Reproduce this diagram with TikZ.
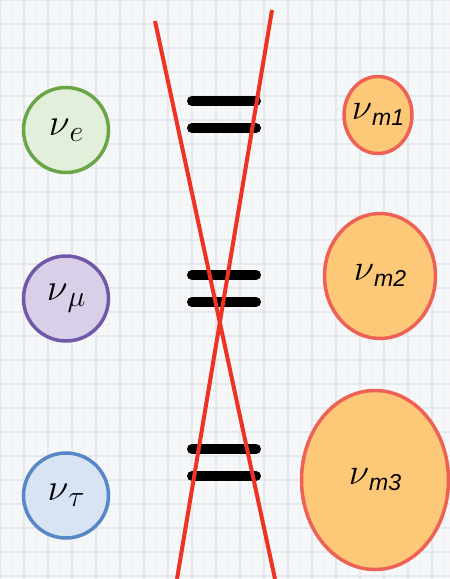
\RequirePackage{fix-cm}
\documentclass[tikz,border=0pt]{standalone}
\usepackage{fontspec}
\newfontfamily\subsans{Liberation Sans}
\usetikzlibrary{shapes.geometric}
\definecolor{bgc}{RGB}{245,247,249}
\definecolor{gridA}{RGB}{229,233,237}
\definecolor{gridB}{RGB}{239,242,245}
\definecolor{grS}{RGB}{106,166,72}
\definecolor{grF}{RGB}{226,239,218}
\definecolor{puS}{RGB}{114,88,168}
\definecolor{puF}{RGB}{217,207,232}
\definecolor{blS}{RGB}{88,135,200}
\definecolor{blF}{RGB}{216,227,244}
\definecolor{orF}{RGB}{253,200,120}
\definecolor{orS}{RGB}{238,98,85}
\definecolor{redL}{RGB}{238,50,36}
\newcommand{\flav}[1]{\makebox[0pt]{{\fontsize{38}{38}\selectfont$\nu$}\raisebox{-6pt}{\fontsize{30}{30}\selectfont$#1$}}}
\newcommand{\mass}[1]{\makebox[0pt]{{\fontsize{37}{37}\selectfont$\nu$}\raisebox{-6pt}{\fontsize{23}{23}\selectfont\subsans\itshape #1}}}
\begin{document}
\begin{tikzpicture}[x=1pt,y=-1pt,
  flavour/.style={circle,line width=3.5pt,minimum size=85pt,inner sep=0pt},
  massst/.style={ellipse,draw=orS,fill=orF,line width=3.5pt,inner sep=0pt},
  eqbar/.style={line width=10pt,line cap=round},
  xline/.style={draw=redL,line width=4pt}]
\useasboundingbox (0,0) rectangle (450,579);
\fill[bgc] (0,0) rectangle (450,579);
\draw[gridB,line width=0.6pt] (0,0) grid[step=12pt] (450,579);
\draw[gridA,line width=1.2pt] (0,0) grid[step=24pt] (450,579);
% flavour states
\node[flavour,draw=grS,fill=grF] (ne) at (66,130) {\flav{e}};
\node[flavour,draw=puS,fill=puF] (nmu) at (66,298.5) {\flav{\mu}};
\node[flavour,draw=blS,fill=blF] (ntau) at (66,495.5) {\flav{\tau}};
% mass states
\node[massst,minimum width=68pt,minimum height=77pt] (m1) at (378,115) {\mass{m1}};
\node[massst,minimum width=111pt,minimum height=125pt] (m2) at (380,276) {\mass{m2}};
\node[massst,minimum width=147pt,minimum height=179pt] (m3) at (375,480) {\mass{m3}};
% equal signs
\foreach \y in {101,128,275,302,449,476}
  \draw[eqbar] (192,\y) -- (256,\y);
% crossing red lines
\coordinate (a1) at (155,21);
\coordinate (a2) at (275,579);
\coordinate (b1) at (272,10);
\coordinate (b2) at (177,579);
\draw[xline] (a1) -- (a2);
\draw[xline] (b1) -- (b2);
\end{tikzpicture}
\end{document}
